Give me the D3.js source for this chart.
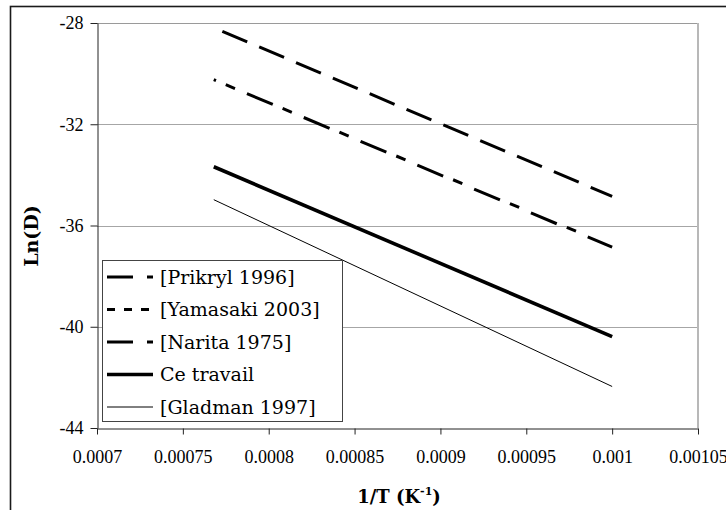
<!DOCTYPE html>
<html>
<head>
<meta charset="utf-8">
<script src="https://cdn.jsdelivr.net/npm/d3@7"></script>
<style>
  html, body { margin: 0; padding: 0; background: #fff; }
  svg { display: block; }
  .tickfont { font-family: "Liberation Serif", serif; }
  .georgia { font-family: "DejaVu Serif", serif; }
</style>
</head>
<body>
<svg id="chart" width="726" height="510"></svg>
<script>
// ---- data ----
const seriesNames = ["[Prikryl 1996]", "[Yamasaki 2003]", "[Narita 1975]", "Ce travail", "[Gladman 1997]"];
const prikrylX = [0.000773, 0.001];
const prikrylY = [-28.33, -34.85];
const yamasakiX = [0.000768, 0.001];
const yamasakiY = [-30.24, -36.82];
const naritaX = [0.000768, 0.001];
const naritaY = [-30.24, -36.85];
const ceTravailX = [0.000768, 0.001];
const ceTravailY = [-33.68, -40.39];
const gladmanX = [0.000768, 0.001];
const gladmanY = [-34.98, -42.36];
const xTickValues = [0.0007, 0.00075, 0.0008, 0.00085, 0.0009, 0.00095, 0.001, 0.00105];
const xTickLabels = ["0.0007", "0.00075", "0.0008", "0.00085", "0.0009", "0.00095", "0.001", "0.00105"];
const yTickValues = [-44, -40, -36, -32, -28];
const yTickLabels = ["-44", "-40", "-36", "-32", "-28"];

// ---- styles (not data) ----
const styles = [
  { width: 3, dash: "27,13", offset: 0, legendDash: "26,14" },
  { width: 3, dash: "10,51.6", offset: 48.6, legendDash: "8,9" },
  { width: 3, dash: "28,33.6", offset: 25.6, legendDash: "26,14" },
  { width: 3.6, dash: null, offset: 0, legendDash: null },
  { width: 1, dash: null, offset: 0, legendDash: null }
];

const series = [
  { name: seriesNames[0], xs: prikrylX, ys: prikrylY },
  { name: seriesNames[1], xs: yamasakiX, ys: yamasakiY },
  { name: seriesNames[2], xs: naritaX, ys: naritaY },
  { name: seriesNames[3], xs: ceTravailX, ys: ceTravailY },
  { name: seriesNames[4], xs: gladmanX, ys: gladmanY }
];

const svg = d3.select("#chart");
const plot = { left: 97, right: 698, top: 23, bottom: 428 };

const x = d3.scaleLinear().domain([0.0007, 0.00105]).range([plot.left, plot.right]);
const y = d3.scaleLinear().domain([-44, -28]).range([plot.bottom, plot.top]);

// outer chart border (only top/left visible)
svg.append("rect")
  .attr("x", 10.5).attr("y", 6.5)
  .attr("width", 900).attr("height", 700)
  .attr("fill", "none").attr("stroke", "#1a1a1a").attr("stroke-width", 1.6);

// gridlines
svg.append("g")
  .selectAll("line")
  .data(yTickValues.filter(v => v !== -44 && v !== -28))
  .join("line")
  .attr("x1", plot.left).attr("x2", plot.right)
  .attr("y1", d => Math.round(y(d)) + 0.5).attr("y2", d => Math.round(y(d)) + 0.5)
  .attr("stroke", "#a6a6a6").attr("stroke-width", 1);

// plot area top and right border
svg.append("line")
  .attr("x1", plot.left).attr("x2", plot.right)
  .attr("y1", plot.top + 0.5).attr("y2", plot.top + 0.5)
  .attr("stroke", "#9a9a9a").attr("stroke-width", 1.2);
svg.append("line")
  .attr("x1", plot.right).attr("x2", plot.right)
  .attr("y1", plot.top).attr("y2", plot.bottom)
  .attr("stroke", "#b8b8b8").attr("stroke-width", 2);

// axes
const xAxis = d3.axisBottom(x)
  .tickValues(xTickValues)
  .tickFormat((d, i) => xTickLabels[i])
  .tickSizeInner(6).tickSizeOuter(0).tickPadding(16);
const gx = svg.append("g")
  .attr("transform", `translate(0,${plot.bottom + 0.5})`)
  .call(xAxis)
  .attr("font-family", null).attr("font-size", null);
gx.select(".domain").attr("stroke", "#222");
gx.selectAll(".tick line").attr("stroke", "#222");
gx.selectAll(".tick text")
  .attr("class", "tickfont")
  .style("font-family", "'Liberation Serif', serif")
  .style("font-size", "18px").attr("fill", "#000");

const yAxis = d3.axisLeft(y)
  .tickValues(yTickValues)
  .tickFormat((d, i) => yTickLabels[i])
  .tickSizeInner(7).tickSizeOuter(0).tickPadding(7);
const gy = svg.append("g")
  .attr("transform", `translate(${plot.left + 0.5},0)`)
  .call(yAxis)
  .attr("font-family", null).attr("font-size", null);
gy.select(".domain").attr("stroke", "#222");
gy.selectAll(".tick line").attr("stroke", "#222");
gy.selectAll(".tick text")
  .attr("class", "tickfont")
  .style("font-family", "'Liberation Serif', serif")
  .style("font-size", "18px").attr("fill", "#000");

// series lines
const line = d3.line().x(d => x(d[0])).y(d => y(d[1]));
svg.append("g")
  .selectAll("path")
  .data(series)
  .join("path")
  .attr("d", s => line(s.xs.map((v, i) => [v, s.ys[i]])))
  .attr("fill", "none")
  .attr("stroke", "#000")
  .attr("stroke-width", (s, i) => styles[i].width)
  .attr("stroke-dasharray", (s, i) => styles[i].dash)
  .attr("stroke-dashoffset", (s, i) => styles[i].offset);

// legend
const legend = svg.append("g");
legend.append("rect")
  .attr("x", 102.5).attr("y", 260.5)
  .attr("width", 240).attr("height", 161)
  .attr("fill", "#fff").attr("stroke", "#444").attr("stroke-width", 1);
const rowY = d3.scaleLinear().domain([0, 4]).range([277, 407]);
const rows = legend.selectAll("g.row")
  .data(series)
  .join("g").attr("class", "row")
  .attr("transform", (s, i) => `translate(0,${rowY(i)})`);
rows.append("line")
  .attr("x1", 107).attr("x2", 153)
  .attr("y1", 0).attr("y2", 0)
  .attr("stroke", "#000")
  .attr("stroke-width", (s, i) => styles[i].width)
  .attr("stroke-dasharray", (s, i) => styles[i].legendDash);
rows.append("text")
  .attr("class", "georgia")
  .attr("x", 160).attr("y", 0).attr("dy", "0.35em")
  .style("font-family", "'DejaVu Serif', serif")
  .style("font-size", "19px")
  .text(s => s.name);

// axis titles
svg.append("text")
  .attr("transform", `translate(31,236) rotate(-90)`)
  .attr("text-anchor", "middle").attr("dy", "0.35em")
  .style("font-family", "'DejaVu Serif', serif")
  .style("font-weight", "bold").style("font-size", "19px")
  .text("Ln(D)");

const xt = svg.append("text")
  .attr("x", 399).attr("y", 503)
  .attr("text-anchor", "middle")
  .style("font-family", "'DejaVu Serif', serif")
  .style("font-weight", "bold").style("font-size", "18px");
xt.append("tspan").text("1/T (K");
xt.append("tspan").attr("dy", -8).style("font-size", "11px").text("-1");
xt.append("tspan").attr("dy", 8).text(")");
</script>
</body>
</html>
